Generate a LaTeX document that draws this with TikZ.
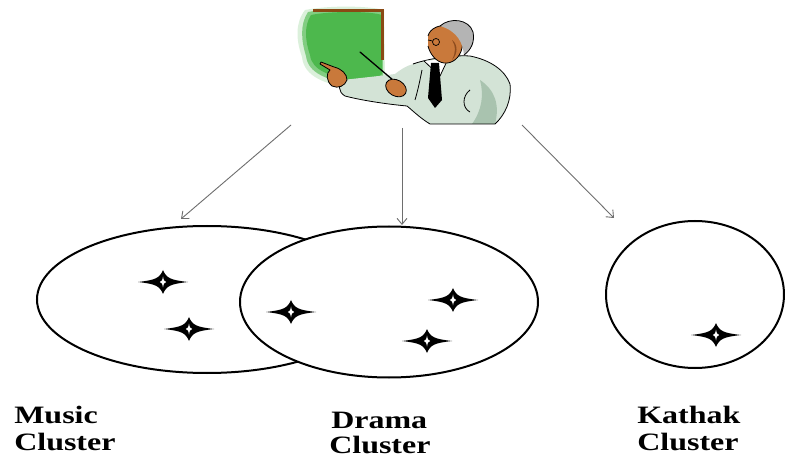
\documentclass[tikz,border=0pt]{standalone}
\usepackage{fontspec}
\setmainfont{Liberation Serif}
\usetikzlibrary{arrows.meta,shapes.geometric}

\definecolor{suit}{HTML}{D3E3D6}
\definecolor{suitdark}{HTML}{A9C3AF}
\definecolor{skin}{HTML}{C9793B}
\definecolor{skindark}{HTML}{8C4B1E}
\definecolor{board}{HTML}{4DB84D}
\definecolor{frame}{HTML}{8A4A14}
\definecolor{hair}{HTML}{B4B4B4}
\definecolor{arrowgray}{HTML}{6E6E6E}

\tikzset{
  cluster/.style={ellipse, draw=black, line width=2pt, fill=white, inner sep=0pt},
  pointer/.style={draw=arrowgray, line width=0.9pt, -{Straight Barb[length=6pt,width=10pt]}},
  lbl/.style={anchor=base west, inner sep=0pt, xscale=1.28,
              font=\fontsize{25}{27}\selectfont\bfseries},
  outline/.style={draw=black, line width=0.8pt, line join=round},
  sparkle/.pic={
    \fill[black] (-25,0) .. controls (-8,-2) and (-3.5,-3.5) .. (0,-12)
                 .. controls (3.5,-3.5) and (8,-2) .. (25,0)
                 .. controls (8,2) and (3.5,3.5) .. (0,12)
                 .. controls (-3.5,3.5) and (-8,2) .. (-25,0) -- cycle;
    \fill[white] (-3.2,0) .. controls (-1,-0.7) and (-0.7,-1.6) .. (0,-5.5)
                 .. controls (0.7,-1.6) and (1,-0.7) .. (3.2,0)
                 .. controls (1,0.7) and (0.7,1.6) .. (0,5.5)
                 .. controls (-0.7,1.6) and (-1,0.7) .. (-3.2,0) -- cycle;
  }
}

\begin{document}
\begin{tikzpicture}[x=1pt,y=-1pt]
\useasboundingbox[fill=white] (0,0) rectangle (785,457);

% ---------- teacher at the board ----------
% green board with soft edge
\fill[board!40, opacity=0.5] (305,10) .. controls (330,5) and (370,6) .. (384,10) -- (385,79)
  .. controls (376,88) and (360,90) .. (349,88) .. controls (326,84) and (304,77) .. (302,57)
  .. controls (296,40) and (295,23) .. (305,10) -- cycle;
\fill[board!70] (308,12) .. controls (330,8) and (370,8) .. (383,12) -- (383,77)
  .. controls (375,85) and (360,86) .. (350,84) .. controls (329,80) and (308,74) .. (306,56)
  .. controls (301,40) and (300,24) .. (308,12) -- cycle;
\fill[board] (311,15) .. controls (330,11) and (370,11) .. (382,15) -- (382,74)
  .. controls (375,81) and (360,82) .. (351,80) .. controls (331,76) and (312,71) .. (310,55)
  .. controls (305,40) and (304,26) .. (311,15) -- cycle;
\draw[frame, line width=3pt] (313,11) -- (382,11) -- (382,60);

% suit
\fill[suit] (413,64) .. controls (430,58) and (455,55) .. (470,56)
  .. controls (490,60) and (505,70) .. (510,84) .. controls (512,100) and (505,115) .. (495,124)
  -- (430,124) .. controls (420,118) and (412,110) .. (407,106)
  .. controls (385,104) and (360,100) .. (345,96) .. controls (338,92) and (338,84) .. (343,80)
  .. controls (360,78) and (380,76) .. (395,74) .. controls (400,70) and (406,66) .. (413,64) -- cycle;
\fill[suitdark] (480,80) .. controls (495,90) and (500,105) .. (495,124) -- (472,124)
  .. controls (482,110) and (484,95) .. (480,80) -- cycle;
\draw[outline] (413,64) .. controls (430,58) and (455,55) .. (470,56)
  .. controls (490,60) and (505,70) .. (510,84) .. controls (512,100) and (505,115) .. (495,124)
  -- (430,124) .. controls (420,118) and (412,110) .. (407,106)
  .. controls (385,104) and (360,100) .. (345,96) .. controls (338,92) and (338,84) .. (343,80);
\draw[outline] (470,90) .. controls (462,96) and (462,108) .. (470,112);
\draw[outline] (415,100) .. controls (418,90) and (420,80) .. (422,70);

% shirt and tie
\fill[white] (424,61) -- (448,59) -- (440,76) -- cycle;
\draw[outline] (424,61) -- (440,76) -- (448,59);
\fill[black] (431,63) -- (439,63) -- (442,100) -- (435,108) -- (428,98) -- cycle;

% head
\fill[skin] (428,36) .. controls (430,28) and (440,24) .. (450,26)
  .. controls (460,28) and (464,38) .. (462,48) .. controls (460,58) and (452,64) .. (444,63)
  .. controls (436,62) and (430,54) .. (428,46) -- cycle;
\fill[skindark] (452,40) .. controls (458,44) and (458,54) .. (452,60)
  .. controls (456,52) and (456,46) .. (452,40) -- cycle;
\draw[outline] (428,36) .. controls (430,28) and (440,24) .. (450,26)
  .. controls (460,28) and (464,38) .. (462,48) .. controls (460,58) and (452,64) .. (444,63)
  .. controls (436,62) and (430,54) .. (428,46);
\fill[hair] (440,26) .. controls (450,17) and (469,19) .. (473,32)
  .. controls (475,42) and (471,50) .. (464,55) .. controls (463,44) and (458,31) .. (440,26) -- cycle;
\draw[outline] (440,26) .. controls (450,17) and (469,19) .. (473,32)
  .. controls (475,42) and (471,50) .. (464,55);
\draw[line width=0.7pt] (436,42) circle (3.5);
\draw[line width=0.7pt] (428,40) -- (432.5,41);

% pointing hand
\fill[skin] (321,62) -- (334,67) .. controls (342,69) and (347,74) .. (347,80)
  .. controls (345,86) and (338,89) .. (332,86) .. controls (326,81) and (326,73) .. (330,70)
  -- (320,64) -- cycle;
\draw[outline] (321,62) -- (334,67) .. controls (342,69) and (347,74) .. (347,80)
  .. controls (345,86) and (338,89) .. (332,86) .. controls (326,81) and (326,73) .. (330,70)
  -- (320,64) -- cycle;

% pointer stick and the hand holding it
\draw[line width=1.3pt, line cap=round] (360,52) -- (400,86);
\fill[skin, rotate around={-30:(396,88)}] (396,88) ellipse (11 and 8);
\draw[outline, rotate around={-30:(396,88)}] (396,88) ellipse (11 and 8);

% ---------- clusters ----------
\node[cluster, minimum width=340pt, minimum height=147pt] (music)  at (207,299.5) {};
\node[cluster, minimum width=298pt, minimum height=151pt] (drama)  at (389,302)   {};
\node[cluster, minimum width=178pt, minimum height=147pt] (kathak) at (695,294.5) {};

% members of each cluster
\pic at (163,282) {sparkle};
\pic at (189,329) {sparkle};
\pic at (291,312) {sparkle};
\pic at (453,300) {sparkle};
\pic at (427,341) {sparkle};
\pic at (716,335) {sparkle};

% ---------- arrows from the teacher ----------
\coordinate (fromL) at (291,125);
\coordinate (toL)   at (181,219);
\coordinate (fromM) at (402,128);
\coordinate (toM)   at (402,225);
\coordinate (fromR) at (522,125);
\coordinate (toR)   at (614,218);
\draw[pointer] (fromL) -- (toL);
\draw[pointer] (fromM) -- (toM);
\draw[pointer] (fromR) -- (toR);

% ---------- labels ----------
\node[lbl] (musicA)  at (14,423)  {Music};
\node[lbl] (musicB)  at (14,450)  {Cluster};
\node[lbl] (dramaA)  at (331,428) {Drama};
\node[lbl] (dramaB)  at (329,453) {Cluster};
\node[lbl] (kathakA) at (637,423) {Kathak};
\node[lbl] (kathakB) at (637,450) {Cluster};
\end{tikzpicture}
\end{document}
